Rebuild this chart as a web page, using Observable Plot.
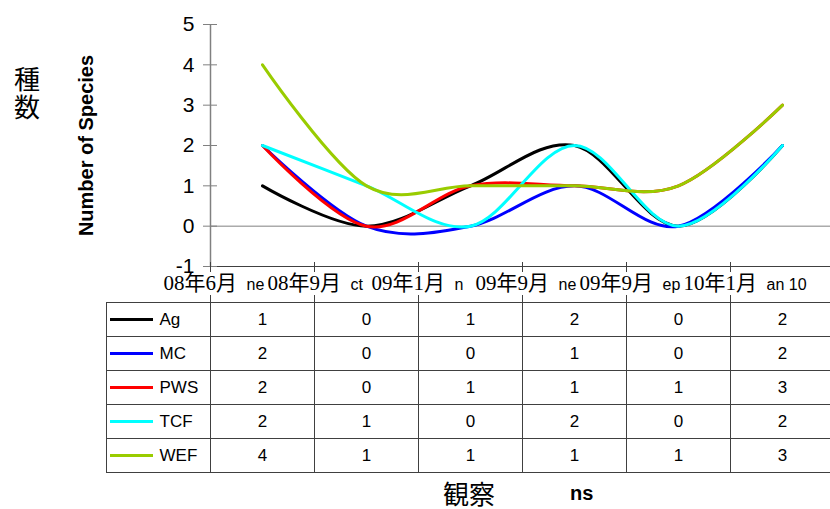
<!DOCTYPE html>
<html>
<head>
<meta charset="utf-8">
<script src="https://cdn.jsdelivr.net/npm/d3@7"></script>
<script src="https://cdn.jsdelivr.net/npm/@observablehq/plot@0.6"></script>
<style>
  body { margin: 0; background: #fff; }
  #chart { position: relative; width: 830px; height: 509px; overflow: hidden; background: #fff;
           font-family: "Liberation Sans", Arial, sans-serif; }
  #chart svg { position: absolute; left: 0; background: transparent; overflow: visible; }
  .cjk-title { position: absolute; left: 14px; font: 26px/27px "Noto Sans CJK JP", sans-serif; color: #000; }
  .x-title { position: absolute; top: 479px; font: 26px/28px "Noto Sans CJK JP", sans-serif; color: #000; white-space: nowrap; }
  .x-title-en { position: absolute; left: 570px; top: 482px; font: bold 20px/22px "Liberation Sans", Arial, sans-serif; color: #000; }
</style>
</head>
<body>
<div id="chart">
  <div class="cjk-title" style="top:64px">種</div>
  <div class="cjk-title" style="top:92px">数</div>
  <div class="x-title" style="left:443px">観察</div>
  <div class="x-title-en">ns</div>
</div>
<script>
// Survey periods and the species count recorded at each site
const periodDates = ["08年6月", "08年9月", "09年1月", "09年9月", "09年9月", "10年1月"];
const periodTails = ["ne", "ct", "n", "ne", "ep", "an 10"];
const seriesNames = ["Ag", "MC", "PWS", "TCF", "WEF"];
const seriesColors = ["#000000", "#0000ff", "#ff0000", "#00ffff", "#99cc00"];
const agCounts  = [1, 0, 1, 2, 0, 2];
const mcCounts  = [2, 0, 0, 1, 0, 2];
const pwsCounts = [2, 0, 1, 1, 1, 3];
const tcfCounts = [2, 1, 0, 2, 0, 2];
const wefCounts = [4, 1, 1, 1, 1, 3];
const yTicks = [-1, 0, 1, 2, 3, 4, 5];

const seriesCounts = [agCounts, mcCounts, pwsCounts, tcfCounts, wefCounts];
const records = seriesNames.flatMap((name, si) =>
  seriesCounts[si].map((count, period) => ({series: name, row: si, period, count})));
const periods = periodDates.map((date, i) => ({period: i, date, tail: periodTails[i]}));
const nPeriods = periodDates.length;
const boundaries = d3.range(nPeriods + 1).map(i => i - 0.5);

const bandWidth = 104;
const plotLeft = 210;
const xDomain = [-0.5, nPeriods - 0.5];
const xRange = [plotLeft, plotLeft + bandWidth * nPeriods];
const colorScale = {domain: seriesNames, range: seriesColors};
const sans = "'Liberation Sans', Arial, sans-serif";

// Line chart with smoothed curves
const lineChart = Plot.plot({
  width: 830,
  height: 300,
  marginTop: 24,
  marginBottom: 34,
  marginLeft: plotLeft,
  marginRight: 0,
  style: {background: "transparent", overflow: "visible"},
  x: {type: "linear", domain: xDomain, range: xRange, axis: null},
  y: {domain: [-1, 5]},
  color: colorScale,
  marks: [
    Plot.ruleY([0], {stroke: "#808080", strokeWidth: 1}),
    Plot.ruleY([-1], {stroke: "#404040", strokeWidth: 1}),
    Plot.ruleX([xDomain[0]], {y1: -1, y2: 5, stroke: "#808080", strokeWidth: 1.5}),
    Plot.ruleY(yTicks, {x1: xDomain[0], x2: xDomain[0], insetLeft: -7, insetRight: -7, stroke: "#808080"}),
    Plot.ruleX(boundaries, {y1: -1, y2: -1, insetTop: -4, insetBottom: -6, stroke: "#404040"}),
    Plot.axisY(yTicks, {tickSize: 0, tickPadding: 16, fontSize: 21, label: null,
      tickFormat: d => String(d), fontFamily: sans, fill: "#000"}),
    Plot.text(["Number of Species"], {frameAnchor: "left", rotate: -90, dx: -124, textAnchor: "middle",
      fontSize: 20, fontWeight: "bold", fill: "#000", fontFamily: sans}),
    Plot.line(records, {x: "period", y: "count", z: "series", stroke: "series",
      strokeWidth: 3, curve: "cardinal", strokeLinejoin: "round"}),
    Plot.text(periods, {x: "period", y: -1, text: "date", textAnchor: "start", dx: -99, dy: 17,
      fontSize: 21, fill: "#000", fontFamily: "'Liberation Serif', 'Noto Sans CJK JP', serif"}),
    Plot.text(periods, {x: "period", y: -1, text: "tail", textAnchor: "start", dx: -16, dy: 18,
      fontSize: 16, fill: "#000", fontFamily: sans})
  ]
});
lineChart.style.top = "0px";

// Data table below the chart, sharing the period columns
const tableDomain = [-1.5, nPeriods - 0.5];
const tableRange = [plotLeft - bandWidth, plotLeft + bandWidth * nPeriods];
const rowLines = d3.range(seriesNames.length + 1);
const legendRows = seriesNames.map((name, i) => ({series: name, row: i}));
const dataTable = Plot.plot({
  width: 830,
  height: 217,
  marginTop: 3,
  marginBottom: 37,
  marginLeft: plotLeft - bandWidth,
  marginRight: 0,
  style: {background: "transparent", overflow: "visible"},
  x: {type: "linear", domain: tableDomain, range: tableRange, axis: null},
  y: {domain: [0, seriesNames.length], range: [10, 180], axis: null},
  color: colorScale,
  marks: [
    Plot.ruleX(boundaries, {stroke: "#404040", strokeWidth: 1}),
    Plot.ruleX([tableDomain[0]], {y1: 0, y2: seriesNames.length, stroke: "#404040"}),
    Plot.ruleY(rowLines, {x1: tableDomain[0], x2: tableDomain[1], stroke: "#404040", strokeWidth: 1.2}),
    Plot.ruleY(legendRows, {y: d => d.row + 0.5, x1: -1.5, x2: -1, insetLeft: 4, insetRight: 5,
      stroke: "series", strokeWidth: 3}),
    Plot.text(legendRows, {x: -1, y: d => d.row + 0.5, text: "series", textAnchor: "start", dx: 1,
      fontSize: 17, fill: "#000", fontFamily: sans}),
    Plot.text(records, {x: "period", y: d => d.row + 0.5, text: d => String(d.count),
      fontSize: 17, fill: "#000", fontFamily: sans})
  ]
});
dataTable.style.top = "292px";

const chart = document.getElementById("chart");
chart.appendChild(dataTable);
chart.appendChild(lineChart);
</script>
</body>
</html>
